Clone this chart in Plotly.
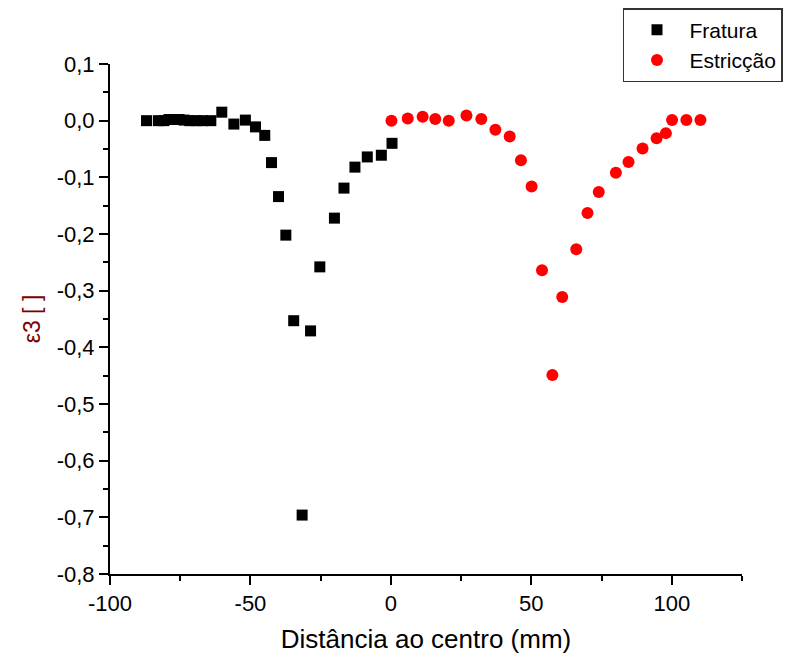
import plotly.graph_objects as go

# ---- data ----
fratura_x = [-87.0, -82.8, -80.8, -79.0, -77.2, -75.4, -73.6, -71.6, -69.4, -67.0, -64.1,
             -60.2, -55.9, -51.8, -48.2, -44.9, -42.5, -40.0, -37.4, -34.6, -31.6, -28.6,
             -25.3, -20.1, -16.7, -12.8, -8.4, -3.4, 0.4]
fratura_y = [0.0, 0.0, 0.0, 0.002, 0.002, 0.002, 0.001, 0.0, 0.0, 0.0, 0.0,
             0.015, -0.006, 0.001, -0.011, -0.026, -0.074, -0.134, -0.202, -0.353, -0.696, -0.371,
             -0.258, -0.172, -0.119, -0.082, -0.064, -0.061, -0.040]

estriccao_x = [0.2, 6.0, 11.3, 15.8, 20.6, 26.9, 32.2, 37.2, 42.3, 46.3, 50.1, 53.8, 57.5,
               61.0, 66.0, 70.0, 74.0, 80.1, 84.6, 89.6, 94.6, 97.9, 100.1, 105.2, 110.2]
estriccao_y = [0.0, 0.004, 0.007, 0.003, 0.0, 0.009, 0.003, -0.016, -0.028, -0.070, -0.116, -0.264, -0.449,
               -0.311, -0.227, -0.163, -0.126, -0.092, -0.073, -0.049, -0.031, -0.022, 0.001, 0.001, 0.001]

x_tickvals = [-100, -50, 0, 50, 100]
x_ticktext = ["-100", "-50", "0", "50", "100"]
y_tickvals = [0.1, 0.0, -0.1, -0.2, -0.3, -0.4, -0.5, -0.6, -0.7, -0.8]
y_ticktext = ["0,1", "0,0", "-0,1", "-0,2", "-0,3", "-0,4", "-0,5", "-0,6", "-0,7", "-0,8"]

FONT = "Arial, Liberation Sans, sans-serif"

fig = go.Figure()
fig.add_trace(go.Scatter(x=fratura_x, y=fratura_y, mode="markers", name="Fratura",
                         marker=dict(symbol="square", size=11, color="black")))
fig.add_trace(go.Scatter(x=estriccao_x, y=estriccao_y, mode="markers", name="Estricção",
                         marker=dict(symbol="circle", size=12, color="#ff0000")))

axis_common = dict(showgrid=False, zeroline=False, showline=True, linecolor="black", linewidth=2,
                   ticks="outside", ticklen=9, tickwidth=2, tickcolor="black",
                   tickfont=dict(family=FONT, size=22, color="black"))

fig.update_layout(
    width=798, height=654,
    margin=dict(l=110, r=56, t=64, b=80, autoexpand=False),
    paper_bgcolor="white", plot_bgcolor="white",
    font=dict(family=FONT, size=20, color="black"),
    xaxis=dict(range=[-100, 125], tickvals=x_tickvals, ticktext=x_ticktext,
               minor=dict(dtick=25, tick0=0, ticks="outside", ticklen=5, tickwidth=2, tickcolor="black"),
               title=dict(text="Distância ao centro (mm)", font=dict(family=FONT, size=26, color="black"),
                          standoff=17),
               **axis_common),
    yaxis=dict(range=[-0.8, 0.1], tickvals=y_tickvals, ticktext=y_ticktext,
               minor=dict(dtick=0.05, tick0=0, ticks="outside", ticklen=5, tickwidth=2, tickcolor="black"),
               title=dict(text="ε3 [ ]", font=dict(family=FONT, size=23, color="#800000"),
                          standoff=10),
               **axis_common),
    legend=dict(x=0.8117, y=1.1098, xanchor="left", yanchor="top",
                bordercolor="#333333", borderwidth=1.5, bgcolor="white",
                font=dict(family=FONT, size=21, color="black"),
                itemwidth=55, tracegroupgap=0),
    showlegend=True,
)

fig.write_html("out.html", config={"displayModeBar": False},
               post_script="document.body.style.margin='0';document.body.style.padding='0';")
